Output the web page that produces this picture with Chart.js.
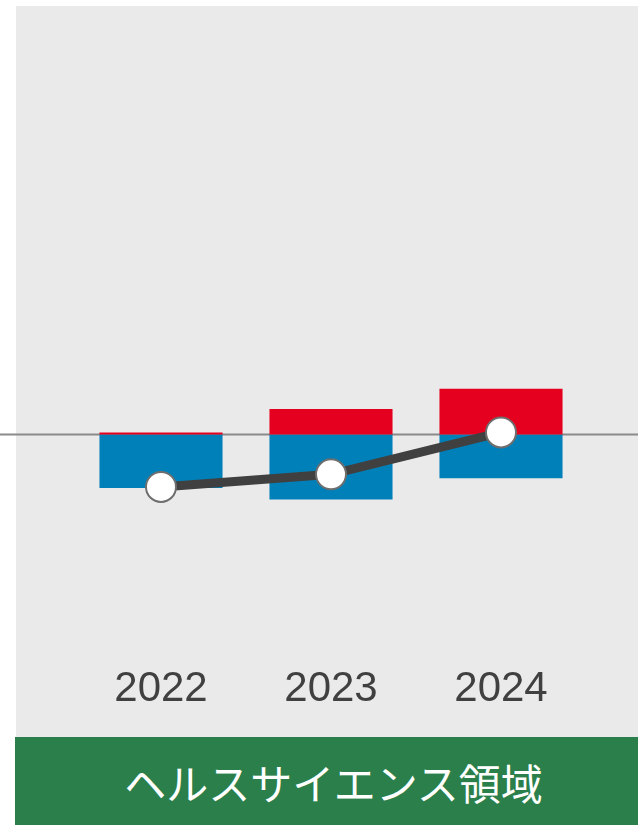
<!DOCTYPE html>
<html>
<head>
<meta charset="utf-8">
<script src="https://cdn.jsdelivr.net/npm/chart.js@4"></script>
<style>
    body { margin: 0; background: #ffffff; width: 638px; height: 825px; position: relative; overflow: hidden; }
    #chart { position: absolute; left: 0; top: 0; }
    .banner {
        position: absolute; left: 15px; top: 737px; width: 623px; height: 88px;
        background: #2a7f4b; color: #ffffff;
        font-family: "Noto Sans CJK JP", sans-serif; font-size: 42px;
        display: flex; align-items: center; justify-content: center;
        padding-left: 14px; box-sizing: border-box;
    }
</style>
</head>
<body>
<canvas id="chart" width="638" height="737"></canvas>
<div class="banner">ヘルスサイエンス領域</div>
<script>
// 年度
var years = ["2022", "2023", "2024"];
// 増加要因 (赤)
var plusValues = [2, 26, 47];
// 減少要因 (青)
var minusValues = [-55, -67, -45];
// 差し引き (折れ線)
var netValues = [-54, -41, 2];

// 背景のグレー領域
var backgroundPlugin = {
    id: "bgArea",
    beforeDraw: function (chart) {
        var ctx = chart.ctx;
        ctx.save();
        ctx.fillStyle = "#eaeaea";
        ctx.fillRect(16, 6, chart.width - 16, chart.height - 6);
        ctx.restore();
    },
};

// ゼロ基準線 (横幅いっぱい)
var zeroLinePlugin = {
    id: "zeroLine",
    beforeDatasetsDraw: function (chart) {
        var ctx = chart.ctx;
        var y = chart.scales.y.getPixelForValue(0);
        ctx.save();
        ctx.strokeStyle = "#8a8a8a";
        ctx.lineWidth = 2;
        ctx.beginPath();
        ctx.moveTo(0, y);
        ctx.lineTo(chart.width, y);
        ctx.stroke();
        ctx.restore();
    },
};

var ctx = document.getElementById("chart").getContext("2d");
new Chart(ctx, {
    type: "bar",
    data: {
        labels: years,
        datasets: [
            {
                type: "line",
                label: "差し引き",
                data: netValues,
                stack: "net",
                order: 0,
                borderColor: "#404040",
                borderWidth: 9,
                pointRadius: 15,
                pointBorderWidth: 2,
                pointBorderColor: "#6e6e6e",
                pointBackgroundColor: "#ffffff",
                fill: false,
                tension: 0,
            },
            {
                label: "増加",
                data: plusValues,
                stack: "bars",
                order: 1,
                backgroundColor: "#e6001f",
                borderWidth: 0,
                categoryPercentage: 1,
                barPercentage: 0.724,
            },
            {
                label: "減少",
                data: minusValues,
                stack: "bars",
                order: 1,
                backgroundColor: "#0080b9",
                borderWidth: 0,
                categoryPercentage: 1,
                barPercentage: 0.724,
            },
        ],
    },
    options: {
        responsive: false,
        animation: false,
        layout: {
            padding: { left: 76, right: 52, top: 6, bottom: 1 },
        },
        plugins: {
            legend: { display: false },
            tooltip: { enabled: false },
        },
        scales: {
            x: {
                stacked: true,
                grid: { display: false, drawTicks: false },
                border: { display: false },
                ticks: {
                    color: "#404040",
                    padding: 21,
                    font: { family: "'Liberation Sans', Arial, sans-serif", size: 42 },
                },
            },
            y: {
                display: false,
                stacked: true,
                min: -215,
                max: 429,
            },
        },
    },
    plugins: [backgroundPlugin, zeroLinePlugin],
});
</script>
</body>
</html>
